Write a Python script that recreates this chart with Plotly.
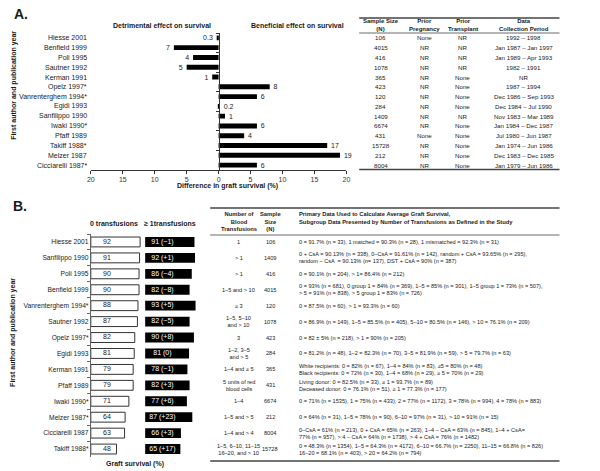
import plotly.graph_objects as go

W, H = 600, 471

# ---- Panel A data ----
names_a = ["Hiesse 2001", "Benfield 1999", "Poli 1995", "Sautner 1992", "Kerman 1991",
           "Opelz 1997*", "Vanrenterghem 1994*", "Egidi 1993", "Sanfilippo 1990",
           "Iwaki 1990*", "Pfaff 1989", "Takiff 1988*", "Melzer 1987", "Cicciarelli 1987*"]
diff_a = [-0.3, -7, -4, -5, -1, 8, 6, 0.2, 1, 6, 4, 17, 19, 6]
x_ticks_a = [-20, -15, -10, -5, 0, 5, 10, 15, 20]
x_ticktext_a = ["20", "15", "10", "5", "0", "5", "10", "15", "20"]

sample_a = [106, 4015, 416, 1078, 365, 423, 120, 284, 1409, 6674, 431, 15728, 212, 8004]
pregnancy_a = ["None", "NR", "NR", "NR", "NR", "NR", "NR", "NR", "NR", "NR", "None", "NR", "NR", "NR"]
transplant_a = ["NR", "NR", "NR", "NR", "None", "None", "None", "None", "NR", "None", "None",
                "None", "None", "None"]
period_a = ["1992 – 1998", "Jan 1987 – Jan 1997", "Jan 1989 – Apr 1993", "1982 – 1991", "NR",
            "1987 – 1994", "Dec 1986 – Sep 1993", "Dec 1984 – Jul 1990", "Nov 1983 – Mar 1989",
            "Jan 1984 – Dec 1987", "Jul 1980 – Jun 1987", "Jan 1974 – Jun 1986",
            "Dec 1983 – Dec 1985", "Jan 1979 – Jun 1986"]

# ---- Panel B data ----
names_b = ["Hiesse 2001", "Sanfilippo 1990", "Poli 1995", "Benfield 1999", "Vanrenterghem 1994*",
           "Sautner 1992", "Opelz 1997*", "Egidi 1993", "Kerman 1991", "Pfaff 1989",
           "Iwaki 1990*", "Melzer 1987*", "Cicciarelli 1987", "Takiff 1988*"]
zero_tx = [92, 91, 90, 90, 88, 87, 82, 81, 79, 79, 71, 64, 63, 48]
one_tx = [91, 92, 86, 82, 93, 82, 90, 81, 78, 82, 77, 87, 66, 65]

n_transf_b = ["1", "> 1", "> 1", "1–5 and > 10", "≥ 3", "1–5, 5–10<br>and > 10", "3",
              "1–2, 3–5<br>and > 5", "1–4 and ≥ 5", "5 units of red<br>blood cells", "1–4",
              "1–5 and > 5", "1–4 and > 4", "1–5, 6–10, 11–15<br>16–20, and > 10"]
sample_b = [106, 1409, 416, 4015, 120, 1078, 423, 284, 365, 431, 6674, 212, 8004, 15728]
primary_b = [
    "0 = 91.7% (n = 33), 1 matched = 90.3% (n = 28), 1 mismatched = 92.3% (n = 31)",
    "0 + CsA = 90.13% (n = 338), 0–CsA = 91.61% (n = 142), random + CsA = 93.65% (n = 295),<br>"
    "random – CsA  = 90.13% (n= 137), DST + CsA = 90% (n = 387)",
    "0 = 90.1% (n = 204), > 1= 86.4% (n = 212)",
    "0 = 93% (n = 681), 0 group 1 = 84% (n = 369), 1–5 = 85% (n = 301), 1–5 group 1 = 73% (n = 507),<br>"
    "> 5 = 91% (n = 838), > 5 group 1 = 83% (n = 726)",
    "0 = 87.5% (n = 60), > 1 = 93.3% (n = 60)",
    "0 = 86.9% (n = 149), 1–5 = 85.5% (n = 405), 5–10 = 80.5% (n = 146), > 10 = 76.1% (n = 209)",
    "0 = 82 ± 5% (n = 218), > 1 = 90% (n = 205)",
    "0 = 81.2% (n = 48), 1–2 = 82.3% (n = 70), 3–5 = 81.9% (n = 59), > 5 = 79.7% (n = 63)",
    "White recipients: 0 = 82% (n = 67), 1–4 = 84% (n = 83), ≥5 = 80% (n = 48)<br>"
    "Black recipients: 0 = 72% (n = 30), 1–4 = 68% (n = 29), ≥ 5 = 70% (n = 29)",
    "Living donor: 0 = 82.5% (n = 33), ≥ 1 = 93.7% (n = 89)<br>"
    "Deceased donor: 0 = 76.1% (n = 51), ≥ 1 = 77.3% (n = 177)",
    "0 = 71% (n = 1535), 1 = 75% (n = 433), 2 = 77% (n = 1172), 3 = 78% (n = 994), 4 = 78% (n = 883)",
    "0 = 64% (n = 31), 1–5 = 78% (n = 90), 6–10 = 97% (n = 31), > 10 = 91% (n = 15)",
    "0–CsA = 61% (n = 213), 0 + CsA = 65% (n = 263), 1–4 – CsA = 63% (n = 845), 1–4 + CsA=<br>"
    "77% (n = 957), > 4 – CsA = 64% (n = 1738), > 4 + CsA = 76% (n = 1482)",
    "0 = 48.3% (n = 1354), 1–5 = 64.3% (n = 4172), 6–10 = 66.7% (n = 2250), 11–15 = 66.8% (n = 826)<br>"
    "16–20 = 68.1% (n = 403), > 20 = 64.2% (n = 794)",
]

FONT = "Liberation Sans, Arial, Helvetica, sans-serif"
INK = "#1a1a1a"
NBSP = "\u00a0"


def px(x):
    return x / W


def py(y):
    return 1 - y / H


def fmt_diff(a, b):
    d = b - a
    if d > 0:
        return f"{b} (+{d})"
    if d < 0:
        return f"{b} (−{-d})"
    return f"{b} (0)"


def bar_label(v):
    # pad the side that faces the bar so the number sits a little off the bar end
    s = f"{abs(v):g}"
    return s + NBSP * 2 if v < 0 else NBSP * 2 + s


fig = go.Figure()

# Panel A bars
fig.add_trace(go.Bar(
    x=diff_a, y=names_a, orientation="h", xaxis="x", yaxis="y",
    marker=dict(color="black", line=dict(width=0)), width=0.5,
    text=[bar_label(v) for v in diff_a], textposition="outside", constraintext="none",
    textfont=dict(size=7, color=INK), cliponaxis=False,
))

# Panel B bars
fig.add_trace(go.Bar(
    x=zero_tx, y=names_b, orientation="h", xaxis="x2", yaxis="y2",
    marker=dict(color="white", line=dict(color="#333", width=1)), width=0.62,
))
fig.add_trace(go.Bar(
    x=one_tx, y=names_b, orientation="h", xaxis="x3", yaxis="y2",
    marker=dict(color="black", line=dict(width=0)), width=0.62,
))
fig.add_trace(go.Scatter(
    x=[30] * len(names_b), y=names_b, mode="text", xaxis="x2", yaxis="y2",
    text=[str(v) for v in zero_tx], textfont=dict(size=7, color=INK),
))
fig.add_trace(go.Scatter(
    x=[32] * len(names_b), y=names_b, mode="text", xaxis="x3", yaxis="y2",
    text=[fmt_diff(a, b) for a, b in zip(zero_tx, one_tx)], textfont=dict(size=7, color="white"),
))

ann = []
bold = dict(family=FONT, size=7, color=INK)

# panel labels and titles
ann.append(dict(x=px(8), y=py(14), text="<b>A.</b>", font=dict(family=FONT, size=14, color=INK),
                xanchor="left", yanchor="middle"))
ann.append(dict(x=px(7), y=py(206), text="<b>B.</b>", font=dict(family=FONT, size=14, color=INK),
                xanchor="left", yanchor="middle"))
ann.append(dict(x=px(160), y=py(26), text="<b>Detrimental effect on survival</b>", font=bold))
ann.append(dict(x=px(297), y=py(26), text="<b>Beneficial effect on survival</b>", font=bold))
ann.append(dict(x=px(227), y=py(186), text="<b>Difference in graft survival (%)</b>", font=bold))
ann.append(dict(x=px(10), y=py(85), text="<b>First author and publication year</b>", font=bold,
                textangle=-90))
ann.append(dict(x=px(9), y=py(332), text="<b>First author and publication year</b>", font=bold,
                textangle=-90))
ann.append(dict(x=px(111), y=py(223), text="<b>0 transfusions</b>", font=bold))
ann.append(dict(x=px(168), y=py(223), text="<b>≥ 1transfusions</b>", font=bold))
ann.append(dict(x=px(133), y=py(464), text="<b>Graft survival (%)</b>", font=bold))

# panel A row labels
for name in names_a:
    ann.append(dict(x=px(86), y=name, yref="y", text=name, xanchor="right",
                    font=dict(family=FONT, size=7, color=INK)))

# panel A table
hdr = dict(family=FONT, size=6, color=INK)
cell = dict(family=FONT, size=6.2, color=INK)
cols_a = [(382, "Sample Size<br>(N)", sample_a), (426, "Prior<br>Pregnancy", pregnancy_a),
          (465, "Prior<br>Transplant", transplant_a), (527, "Data<br>Collection Period", period_a)]
for cx, head, vals in cols_a:
    ann.append(dict(x=px(cx), y=py(25.5), text=f"<b>{head}</b>", font=hdr))
    for name, v in zip(names_a, vals):
        ann.append(dict(x=px(cx), y=name, yref="y", text=str(v), font=cell))

# panel B table
cellb = dict(family=FONT, size=5.6, color=INK)
hdrb = dict(family=FONT, size=5.8, color=INK)
ann.append(dict(x=px(238), y=py(221), text="<b>Number of<br>Blood<br>Transfusions</b>", font=hdrb))
ann.append(dict(x=px(270), y=py(221), text="<b>Sample<br>Size<br>(N)</b>", font=hdrb))
ann.append(dict(x=px(297), y=py(217.5), xanchor="left", align="left", font=hdrb,
                text="<b>Primary Data Used to Calculate Average Graft Survival,<br>"
                     "Subgroup Data Presented by Number of Transfusions as Defined in the Study</b>"))
for name, nt, n, txt in zip(names_b, n_transf_b, sample_b, primary_b):
    ann.append(dict(x=px(238), y=name, yref="y2", text=nt, font=cellb))
    ann.append(dict(x=px(270), y=name, yref="y2", text=str(n), font=cellb))
    ann.append(dict(x=px(297), y=name, yref="y2", text=txt, font=cellb, xanchor="left", align="left"))

for a in ann:
    a.setdefault("xref", "paper")
    a.setdefault("yref", "paper")
    a.setdefault("showarrow", False)
    a.setdefault("xanchor", "center")
    a.setdefault("yanchor", "middle")

# table rules
shapes = []
for x0, x1, y, w in [(360, 563, 18, 1.5), (360, 563, 33, 0.8), (360, 563, 169.5, 1.5),
                     (209, 563, 208, 1.5), (209, 563, 235, 0.8), (209, 563, 461, 1.5)]:
    shapes.append(dict(type="line", xref="paper", yref="paper", x0=px(x0), x1=px(x1),
                       y0=py(y), y1=py(y), line=dict(color="#444", width=w)))

xa0, xa1 = 88, 347
fig.update_layout(
    width=W, height=H, margin=dict(l=0, r=0, t=0, b=0),
    paper_bgcolor="white", plot_bgcolor="white", showlegend=False, barmode="overlay",
    font=dict(family=FONT, color=INK), hovermode=False,
    xaxis=dict(domain=[px(xa0), px(xa1)], range=[-20, 20], anchor="y",
               tickvals=x_ticks_a, ticktext=x_ticktext_a, ticks="outside", ticklen=3,
               tickcolor="#333", showline=True, linecolor="#333", linewidth=1,
               showgrid=False, zeroline=False, tickfont=dict(size=7, color="#333")),
    yaxis=dict(domain=[py(170), py(33)], type="category", categoryarray=names_a,
               range=[len(names_a) - 0.5, -0.5], anchor="free", position=px((xa0 + xa1) / 2),
               showline=True, linecolor="#333", linewidth=1, ticks="outside", ticklen=3,
               tickcolor="#333", tickson="boundaries", showticklabels=False, showgrid=False),
    xaxis2=dict(domain=[px(88), px(142.3)], range=[0, 100], anchor="y2", visible=False),
    xaxis3=dict(domain=[px(143), px(198)], range=[0, 100], anchor="y2", visible=False),
    yaxis2=dict(domain=[py(457), py(234)], type="category", categoryarray=names_b,
                range=[len(names_b) - 0.5, -0.5], anchor="x2", showline=True, linecolor="#666",
                linewidth=1, ticks="outside", ticklen=3, tickcolor="#666", tickson="boundaries",
                showgrid=False, tickfont=dict(size=6.7, color=INK)),
    annotations=ann, shapes=shapes,
)

# the page body has a default 8px margin; drop it so the figure sits at the window origin
fig.write_html("out.html", config={"displayModeBar": False},
               post_script="document.body.style.margin='0';")
